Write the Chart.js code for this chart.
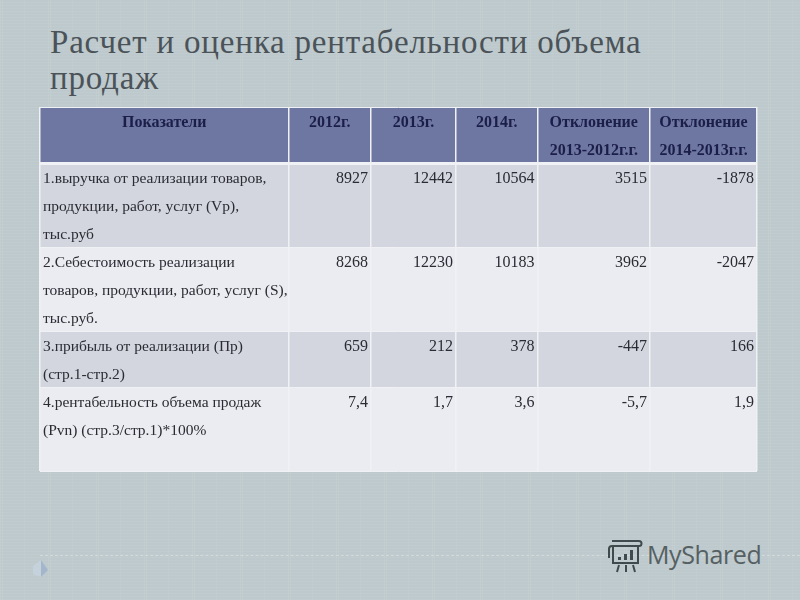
<!DOCTYPE html>
<html lang="ru">
<head>
<meta charset="utf-8">
<title>Расчет и оценка рентабельности объема продаж</title>
<script src="https://cdn.jsdelivr.net/npm/chart.js@4"></script>
<style>
    html, body { margin: 0; padding: 0; width: 800px; height: 600px; overflow: hidden; }
    body {
        position: relative;
        background-color: #bdc9cc;
        background-image:
            repeating-linear-gradient(90deg, rgba(255,255,255,0.07) 0 1px, transparent 1px 2px, rgba(255,255,255,0.07) 2px 3px, transparent 3px 24px, rgba(255,255,255,0.05) 24px 25px, transparent 25px 48px),
            repeating-linear-gradient(0deg, rgba(255,255,255,0.05) 0 1px, transparent 1px 3px);
    }
    h1 {
        position: absolute; left: 50px; top: 24px; margin: 0; width: 640px;
        font: normal 33px/36px "Liberation Serif", serif;
        letter-spacing: 0.8px; color: #4b5359;
    }
    #chart { position: absolute; left: 0; top: 0; }
    #rule { position: absolute; left: 40px; right: 0; top: 555px; border-top: 1px dashed #d3dadc; }
    #mark { position: absolute; left: 0; top: 0; }
    #brand {
        position: absolute; left: 647px; top: 536px;
        font: 25px/36px "Open Sans", sans-serif; letter-spacing: -0.4px; color: #566063;
    }
</style>
</head>
<body>
<h1>Расчет и оценка рентабельности объема продаж</h1>
<div id="rule"></div>
<svg id="mark" width="800" height="600">
    <polygon points="33,566 41,560 41,577 33,574" fill="#c5d2dc"/>
    <polygon points="41,560 48,570 41,577" fill="#a3b6cb"/>
    <g fill="none" stroke="#3f4a4c" stroke-width="2">
        <path d="M612 541h27a2 2 0 0 1 0 5h-27a3 3 0 0 0-3 3v9"/>
        <rect x="613" y="546" width="25" height="17"/>
        <path d="M619 565l-2 7M626 565v7M633 565l2 7"/>
    </g>
    <g fill="#3f4a4c">
        <rect x="618" y="557" width="3" height="3"/>
        <rect x="624" y="554" width="3" height="6"/>
        <rect x="630" y="550" width="3" height="10"/>
    </g>
</svg>
<div id="brand">MyShared</div>
<canvas id="chart" width="800" height="600"></canvas>
<script>
// Table content
const columnHeaders = [
    ['Показатели'],
    ['2012г.'],
    ['2013г.'],
    ['2014г.'],
    ['Отклонение', '2013-2012г.г.'],
    ['Отклонение', '2014-2013г.г.']
];
const rowLabels = [
    ['1.выручка от реализации товаров,', 'продукции, работ, услуг (Vp),', 'тыс.руб'],
    ['2.Себестоимость реализации', 'товаров, продукции, работ, услуг (S),', 'тыс.руб.'],
    ['3.прибыль от реализации (Пр)', '(стр.1-стр.2)'],
    ['4.рентабельность объема продаж', '(Pvn) (стр.3/стр.1)*100%']
];
const values2012 = ['8927', '8268', '659', '7,4'];
const values2013 = ['12442', '12230', '212', '1,7'];
const values2014 = ['10564', '10183', '378', '3,6'];
const diff2013 = ['3515', '3962', '-447', '-5,7'];
const diff2014 = ['-1878', '-2047', '166', '1,9'];
const valueColumns = [values2012, values2013, values2014, diff2013, diff2014];

// Layout of the grid: text lines per row, column widths
const rowLines = [2, 3, 3, 2, 3];
const colWidths = [248.5, 82.5, 85, 81.5, 112.5, 107];
const rowColors = ['#6e76a2', '#d3d6de', '#ebecf1', '#d3d6de', '#ebecf1'];

const colEdges = [0];
colWidths.forEach(w => colEdges.push(colEdges[colEdges.length - 1] + w));
const rowEdges = [0];
rowLines.forEach(n => rowEdges.push(rowEdges[rowEdges.length - 1] + n));

// Writes the cell text at positions taken from the chart's scales
const cellText = {
    id: 'cellText',
    afterDraw(chart) {
        const { ctx, scales } = chart;
        const xPos = v => scales.cols.getPixelForValue(v);
        const yPos = v => scales.y.getPixelForValue(v) + 2;
        ctx.save();
        ctx.textBaseline = 'middle';

        ctx.font = 'bold 16px "Liberation Serif", serif';
        ctx.fillStyle = '#1b1f48';
        ctx.textAlign = 'center';
        columnHeaders.forEach((lines, c) => {
            const mid = xPos((colEdges[c] + colEdges[c + 1]) / 2);
            lines.forEach((line, i) => ctx.fillText(line, mid, yPos(i + 0.5)));
        });

        ctx.fillStyle = '#2a2b33';
        rowLabels.forEach((lines, r) => {
            const top = rowEdges[r + 1];
            ctx.font = '15.5px "Liberation Serif", serif';
            ctx.textAlign = 'left';
            lines.forEach((line, i) => ctx.fillText(line, xPos(0) + 3, yPos(top + i + 0.5)));
            ctx.font = '16px "Liberation Serif", serif';
            ctx.textAlign = 'right';
            valueColumns.forEach((col, c) => {
                ctx.fillText(col[r], xPos(colEdges[c + 2]) - 3, yPos(top + 0.5));
            });
        });
        ctx.restore();
    }
};

new Chart(document.getElementById('chart'), {
    type: 'bar',
    data: {
        labels: ['table'],
        datasets: rowLines.map((n, i) => ({
            data: [n],
            backgroundColor: rowColors[i],
            barPercentage: 1,
            categoryPercentage: 1
        }))
    },
    options: {
        responsive: false,
        animation: false,
        devicePixelRatio: 1,
        layout: { padding: { left: 40, right: 43, top: 107, bottom: 129 } },
        plugins: { legend: { display: false }, tooltip: { enabled: false } },
        scales: {
            x: {
                stacked: true,
                display: false
            },
            y: {
                stacked: true,
                reverse: true,
                min: 0,
                max: rowEdges[rowEdges.length - 1],
                afterBuildTicks: axis => { axis.ticks = rowEdges.map(value => ({ value })); },
                grid: {
                    z: 1,
                    drawTicks: false,
                    color: '#f0f1f4',
                    lineWidth: c => (c.tick && c.tick.value === rowLines[0] ? 3 : 1)
                },
                border: { display: false },
                ticks: { display: false }
            },
            cols: {
                type: 'linear',
                position: 'top',
                offset: false,
                min: 0,
                max: colEdges[colEdges.length - 1],
                afterBuildTicks: axis => { axis.ticks = colEdges.map(value => ({ value })); },
                grid: { offset: false, z: 1, drawTicks: false, color: '#f0f1f4', lineWidth: 1.5 },
                border: { display: false },
                ticks: { display: false }
            }
        }
    },
    plugins: [cellText]
});
</script>
</body>
</html>
